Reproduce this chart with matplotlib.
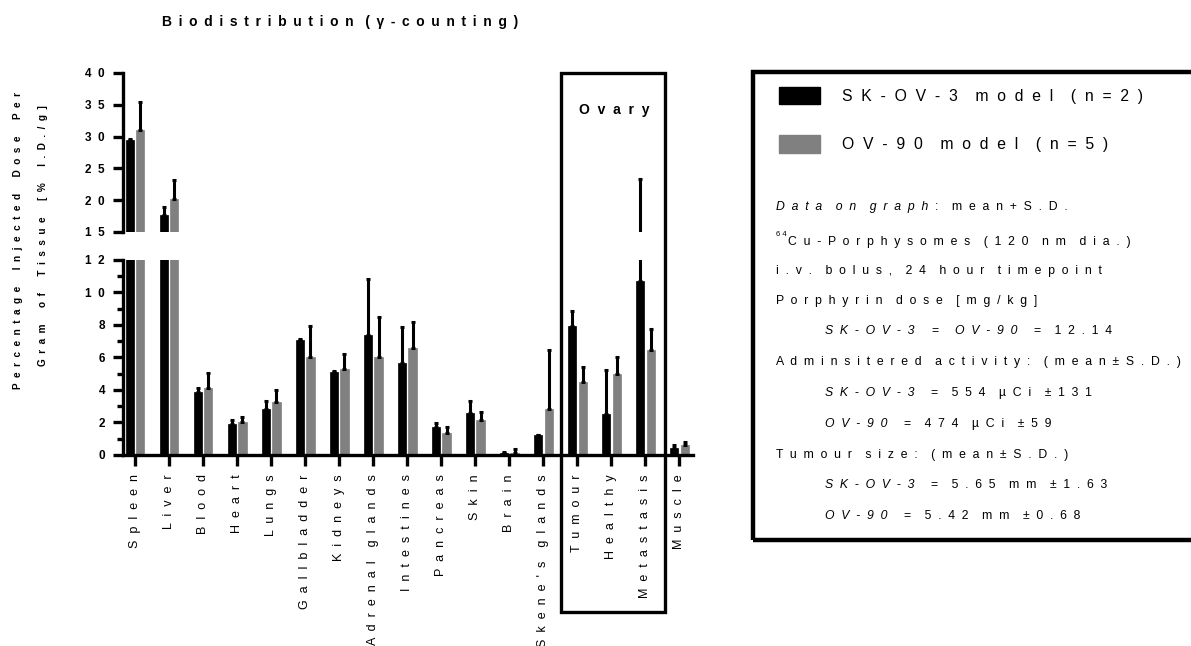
import numpy as np
import matplotlib
matplotlib.use("Agg")
import matplotlib.pyplot as plt
from matplotlib.patches import Rectangle, Patch
from matplotlib.transforms import blended_transform_factory

plt.rcParams['font.family'] = ['Liberation Sans', 'DejaVu Sans']

# data (mean + one-sided S.D.)
tissues = ["Spleen", "Liver", "Blood", "Heart", "Lungs", "Gallbladder", "Kidneys",
           "Adrenal glands", "Intestines", "Pancreas", "Skin", "Brain", "Skene's glands",
           "Tumour", "Healthy", "Metastasis", "Muscle"]
skov3_mean = [29.4, 17.6, 3.85, 1.9, 2.8, 7.1, 5.1, 7.4, 5.65, 1.7, 2.6, 0.15, 1.2,
              7.95, 2.5, 10.7, 0.45]
skov3_sd = [0.2, 1.3, 0.25, 0.25, 0.5, 0.05, 0.05, 3.45, 2.2, 0.25, 0.7, 0.05, 0.05,
            0.9, 2.75, 12.6, 0.15]
ov90_mean = [31.0, 20.1, 4.15, 2.0, 3.25, 6.05, 5.3, 6.05, 6.55, 1.35, 2.15, 0.1, 2.8,
             4.5, 5.0, 6.45, 0.6]
ov90_sd = [4.4, 3.1, 0.9, 0.35, 0.75, 1.9, 0.9, 2.45, 1.6, 0.35, 0.5, 0.25, 3.65,
           0.9, 1.05, 1.3, 0.2]
ovary_group = ["Tumour", "Healthy", "Metastasis"]
series_names = ["SK-OV-3 model (n=2)", "OV-90 model (n=5)"]
series_colors = ["#000000", "#808080"]


def spaced(s, sep="  ", wsep="    "):
    # wide letter spacing like the original figure
    return wsep.join(sep.join(w) for w in s.split(" "))


x = np.arange(len(tissues))
bw = 0.24
offs = [-0.15, 0.16]

fig = plt.figure(figsize=(11.91, 6.46), dpi=100)
left, width = 0.1033, 0.4787
ax_top = fig.add_axes([left, 0.641, width, 0.246])
ax_low = fig.add_axes([left, 0.2957, width, 0.302])

for ax in (ax_top, ax_low):
    for means, sds, off, col in zip([skov3_mean, ov90_mean], [skov3_sd, ov90_sd], offs, series_colors):
        ax.bar(x + off, means, width=bw, color=col, edgecolor=col, linewidth=0.5)
        ax.errorbar(x + off, means, yerr=[np.zeros(len(sds)), sds], fmt='none', ecolor='black',
                    elinewidth=2.2, capsize=1.5, capthick=2.2)
    ax.set_xlim(-0.35, 16.41)
    ax.spines['top'].set_visible(False)
    ax.spines['right'].set_visible(False)
    ax.spines['left'].set_linewidth(2.4)
    ax.spines['bottom'].set_linewidth(2.4)
    ax.tick_params(axis='y', which='major', length=7, width=2.4, labelsize=8.5, pad=6)
    ax.tick_params(axis='y', which='minor', length=4, width=2.4)

ax_top.set_ylim(15, 40)
ax_top.set_yticks(np.arange(15, 41, 5))
ax_top.set_yticklabels([spaced(str(v)) for v in range(15, 41, 5)], fontweight='bold')
ax_top.spines['bottom'].set_visible(False)
ax_top.set_xticks([])

ax_low.set_ylim(0, 12)
ax_low.set_yticks(np.arange(0, 13, 2))
ax_low.set_yticks(np.arange(1, 12, 2), minor=True)
ax_low.set_yticklabels([spaced(str(v)) for v in range(0, 13, 2)], fontweight='bold')
ax_low.set_xticks(x)
ax_low.set_xticklabels([spaced(t, wsep="    ") for t in tissues], rotation=90, fontsize=9)
ax_low.tick_params(axis='x', length=8, width=2.4, pad=6)

# ovary box around the ovary tissues
i0 = tissues.index(ovary_group[0])
i1 = tissues.index(ovary_group[-1])
tr = blended_transform_factory(ax_low.transData, fig.transFigure)
fig.patches.append(Rectangle((i0 - 0.47, 1 - 612 / 646), (i1 - i0) + 1.06, (612 - 73) / 646,
                             transform=tr, fill=False, edgecolor='black', linewidth=2.4,
                             clip_on=False))
fig.text((i0 + i1) / 2 + 0.08, 1 - 110 / 646, spaced("Ovary"), transform=tr, ha='center',
         va='center', fontsize=10, fontweight='bold')

# titles / axis label
fig.text(340 / 1191, 1 - 22 / 646, spaced("Biodistribution (γ-counting)", " \u2009", "   "),
         ha='center', va='center', fontsize=10, fontweight='bold')
fig.text(18 / 1191, 1 - 240 / 646, spaced("Percentage Injected Dose Per", wsep="      "),
         rotation=90, ha='center', va='center', fontsize=7.2, fontweight='bold')
fig.text(43 / 1191, 1 - 236 / 646, spaced("Gram of Tissue [% I.D./g]", wsep="      "),
         rotation=90, ha='center', va='center', fontsize=7.2, fontweight='bold')

# legend box on the right
over = fig.add_axes([0, 0, 1, 1])
over.set_xlim(0, 1)
over.set_ylim(0, 1)
over.axis('off')
over.add_patch(Rectangle((753 / 1191, 1 - 540 / 646), 0.4, (540 - 72) / 646, fill=False,
                         edgecolor='black', linewidth=3.2, clip_on=False))
fig.legend(handles=[Patch(facecolor=c, edgecolor=c) for c in series_colors],
           labels=[spaced(s, wsep="    ") for s in series_names], loc='upper left',
           bbox_to_anchor=(779 / 1191, 1 - 87 / 646), frameon=False, fontsize=11.3,
           handlelength=2.6, handleheight=1.3, handletextpad=1.4, labelspacing=2.0,
           borderpad=0, borderaxespad=0)

note_lines = [
    (776, 207, [("Data on graph", 'italic'), (": mean+S.D.", 'normal')]),
    (788, 242, [("Cu-Porphysomes (120 nm dia.)", 'normal')]),
    (776, 271, [("i.v. bolus, 24 hour timepoint", 'normal')]),
    (776, 301, [("Porphyrin dose [mg/kg]", 'normal')]),
    (825, 331, [("SK-OV-3", 'italic'), ("=", 'normal'), ("OV-90", 'italic'), ("= 12.14", 'normal')]),
    (776, 362, [("Adminsitered activity: (mean±S.D.)", 'normal')]),
    (825, 393, [("SK-OV-3", 'italic'), ("= 554 µCi ±131", 'normal')]),
    (825, 424, [("OV-90", 'italic'), ("= 474 µCi ±59", 'normal')]),
    (776, 455, [("Tumour size: (mean±S.D.)", 'normal')]),
    (825, 485, [("SK-OV-3", 'italic'), ("= 5.65 mm ±1.63", 'normal')]),
    (825, 516, [("OV-90", 'italic'), ("= 5.42 mm ±0.68", 'normal')]),
]
note_size = 8.8
for px, py, parts in note_lines:
    prev = None
    for txt, st in parts:
        if prev is None:
            prev = over.text(px / 1191, 1 - py / 646, spaced(txt), style=st, fontsize=note_size,
                             ha='left', va='center')
        else:
            gap = 5 if txt.startswith(":") else 12
            prev = over.annotate(spaced(txt), xy=(1, 0.5), xycoords=prev, xytext=(gap, 0),
                                 textcoords='offset points', style=st, fontsize=note_size,
                                 ha='left', va='center')
over.text(776 / 1191, 1 - 234 / 646, spaced("64", " "), fontsize=5.5, ha='left', va='center')

fig.savefig("out.png", dpi=100)
